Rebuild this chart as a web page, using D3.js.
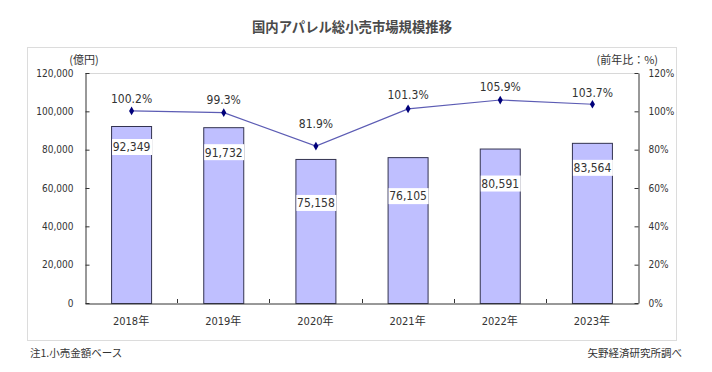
<!DOCTYPE html>
<html><head><meta charset="utf-8">
<script src="https://cdn.jsdelivr.net/npm/d3@7"></script>
<style>body{margin:0;background:#fff}svg{display:block}</style>
</head><body>
<svg id="c" width="712" height="372"></svg>
<script>
const categories = ["2018年","2019年","2020年","2021年","2022年","2023年"];
const sales = [92349, 91732, 75158, 76105, 80591, 83564];
const yoy = [100.2, 99.3, 81.9, 101.3, 105.9, 103.7];
const leftTicks = [0, 20000, 40000, 60000, 80000, 100000, 120000];
const rightTicks = [0, 20, 40, 60, 80, 100, 120];
const titleText = "国内アパレル総小売市場規模推移";
const leftUnit = "(億円)";
const rightUnit = "(前年比：%)";
const noteLeft = "注1.小売金額ベース";
const noteRight = "矢野経済研究所調べ";

// layout (pixels) for manually placed labels in the original
const barLabelDrop = [21, 25, 44, 39, 35, 25];
const pctLabelRise = [12, 13, 22, 14, 13, 12];

const NUM = "'DejaVu Sans Condensed','DejaVu Sans','Noto Sans CJK JP',sans-serif";
const JP = "'Noto Sans CJK JP',sans-serif";
const svg = d3.select("#c");
const L = 85, R = 638, T = 73, B = 303;

const x = d3.scaleBand().domain(categories).range([L, R]).paddingInner(0.566).paddingOuter(0.283);
const yL = d3.scaleLinear().domain([0, 120000]).range([B, T]);
const yR = d3.scaleLinear().domain([0, 120]).range([B, T]);

// outer frame
svg.append("rect").attr("x", 27.5).attr("y", 47.5).attr("width", 649).attr("height", 293)
  .attr("fill", "#fff").attr("stroke", "#dcdcdc");

// title
svg.append("text").attr("x", 352).attr("y", 27).attr("text-anchor", "middle").attr("dy", "0.35em")
  .attr("font-family", JP).attr("font-size", 14).attr("font-weight", "bold").attr("fill", "#4a4a4a")
  .attr("textLength", 200).attr("lengthAdjust", "spacingAndGlyphs").text(titleText);

// plot top border
svg.append("line").attr("x1", L).attr("x2", R).attr("y1", T + 0.5).attr("y2", T + 0.5)
  .attr("stroke", "#d8d8d8");

// bars
const g = svg.append("g");
g.selectAll("rect.bar").data(sales).join("rect").attr("class", "bar")
  .attr("x", (d, i) => x(categories[i]) + 0.5)
  .attr("y", d => yL(d) + 0.5)
  .attr("width", x.bandwidth())
  .attr("height", d => B - yL(d))
  .attr("fill", "#bfbfff").attr("stroke", "#333350").attr("stroke-width", 1);

// bar labels with white boxes
sales.forEach((d, i) => {
  const cx = x(categories[i]) + x.bandwidth() / 2 + 0.5;
  const cy = yL(d) + barLabelDrop[i];
  g.append("rect").attr("x", x(categories[i]) + 1).attr("y", cy - 8)
    .attr("width", x.bandwidth()).attr("height", 16).attr("fill", "#fff");
  g.append("text").attr("x", cx).attr("y", cy).attr("dy", "0.36em").attr("text-anchor", "middle")
    .attr("font-family", NUM).attr("font-size", 12).attr("fill", "#333")
    .text(d3.format(",")(d));
});

// axes
const axL = svg.append("g").attr("transform", `translate(${L + 0.5},0)`)
  .call(d3.axisLeft(yL).tickValues(leftTicks).tickFormat(d3.format(",")).tickSizeInner(-4).tickSizeOuter(0).tickPadding(12));
const axR = svg.append("g").attr("transform", `translate(${R + 0.5},0)`)
  .call(d3.axisRight(yR).tickValues(rightTicks).tickFormat(d => d + "%").tickSizeInner(-4).tickSizeOuter(0).tickPadding(10));
[axL, axR].forEach(a => {
  a.select(".domain").attr("stroke", "#333");
  a.selectAll(".tick line").attr("stroke", "#333");
  a.selectAll("text").attr("font-family", NUM).attr("font-size", 10).attr("fill", "#333");
});

// x axis
const axX = svg.append("g").attr("transform", `translate(0,${B + 0.5})`)
  .call(d3.axisBottom(x).tickSize(0).tickPadding(14));
axX.select(".domain").attr("stroke", "#333");
axX.selectAll("text").attr("font-family", NUM).attr("font-size", 11).attr("fill", "#333");
// category separator ticks (pointing up)
const step = x.step();
categories.slice(1).forEach((c, i) => {
  const bx = Math.round(x(c) - step * x.paddingInner() / 2) + 0.5;
  svg.append("line").attr("x1", bx).attr("x2", bx).attr("y1", B).attr("y2", B - 4).attr("stroke", "#333");
});

// line
const px = (i) => x(categories[i]) + x.bandwidth() / 2 + 0.5;
const line = d3.line().x((d, i) => px(i)).y(d => yR(d));
svg.append("path").datum(yoy).attr("d", line).attr("fill", "none").attr("stroke", "#5c5cb4").attr("stroke-width", 1.2);
svg.selectAll("path.mk").data(yoy).join("path").attr("class", "mk")
  .attr("d", d3.symbol(d3.symbolDiamond, 22))
  .attr("transform", (d, i) => `translate(${px(i)},${yR(d)})`)
  .attr("fill", "#00007a");
svg.selectAll("text.pct").data(yoy).join("text").attr("class", "pct")
  .attr("x", (d, i) => px(i)).attr("y", (d, i) => yR(d) - pctLabelRise[i]).attr("dy", "0.36em")
  .attr("text-anchor", "middle").attr("font-family", NUM).attr("font-size", 12).attr("fill", "#333")
  .text(d => d.toFixed(1) + "%");

// units
svg.append("text").attr("x", 84).attr("y", 60).attr("dy", "0.35em").attr("text-anchor", "middle")
  .attr("font-family", JP).attr("font-size", 11).attr("fill", "#333").text(leftUnit);
svg.append("text").attr("x", 658).attr("y", 60).attr("dy", "0.35em").attr("text-anchor", "end")
  .attr("font-family", JP).attr("font-size", 11).attr("fill", "#333").text(rightUnit);

// notes
svg.append("text").attr("x", 30).attr("y", 353).attr("dy", "0.35em")
  .attr("font-family", JP).attr("font-size", 10.5).attr("fill", "#333").text(noteLeft);
svg.append("text").attr("x", 682).attr("y", 353).attr("dy", "0.35em").attr("text-anchor", "end")
  .attr("font-family", JP).attr("font-size", 10.5).attr("fill", "#333").text(noteRight);
</script>
</body></html>
